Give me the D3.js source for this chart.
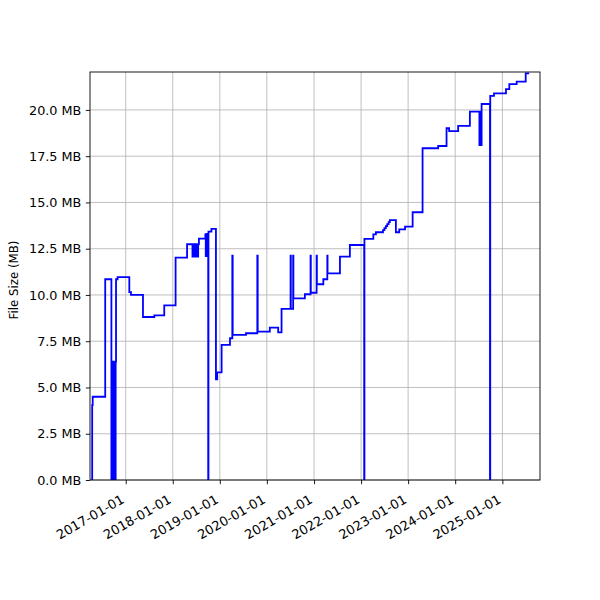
<!DOCTYPE html>
<html>
<head>
<meta charset="utf-8">
<script src="https://cdn.jsdelivr.net/npm/d3@7"></script>
<style>
  html, body { margin: 0; padding: 0; background: #fff; }
  svg { display: block; }
  text { font-family: "DejaVu Sans", sans-serif; }
</style>
</head>
<body>
<svg id="chart" width="600" height="600"></svg>
<script>
// ---- data ----
const commitDates = [
  "2016-04-12","2016-04-16","2016-04-20","2016-07-26",
  "2016-09-12","2016-09-15","2016-09-18","2016-09-21","2016-09-24","2016-09-27",
  "2016-09-30","2016-10-03","2016-10-06","2016-10-09","2016-10-12","2016-10-15",
  "2016-10-18","2016-10-30",
  "2017-01-29","2017-02-11","2017-05-15","2017-08-11","2017-10-27",
  "2018-01-23","2018-04-22",
  "2018-06-03","2018-06-07","2018-06-11","2018-06-15","2018-06-19","2018-06-23",
  "2018-06-27","2018-07-01","2018-07-05","2018-07-09","2018-07-13","2018-07-17",
  "2018-07-23","2018-09-11","2018-09-14","2018-09-16","2018-09-18","2018-09-20",
  "2018-10-03","2018-10-05","2018-10-28","2018-12-02","2018-12-12",
  "2019-01-15","2019-03-21","2019-04-08","2019-04-11","2019-07-23","2019-10-19","2019-10-22",
  "2020-01-24","2020-03-29","2020-04-24","2020-07-03","2020-07-05","2020-07-23","2020-07-25",
  "2020-10-22","2020-12-05","2020-12-07",
  "2021-01-21","2021-01-23","2021-03-14","2021-04-14","2021-04-16","2021-07-21","2021-10-06",
  "2022-01-25","2022-01-27","2022-04-06","2022-04-26",
  "2022-06-20","2022-07-01","2022-07-12","2022-07-23","2022-08-03","2022-08-12",
  "2022-09-28","2022-10-24","2022-12-08",
  "2023-02-05","2023-04-23","2023-08-22","2023-10-26","2023-11-15",
  "2024-01-24","2024-04-24","2024-07-07","2024-07-10","2024-07-13","2024-07-16","2024-07-19",
  "2024-07-24","2024-09-27","2024-09-29","2024-10-28",
  "2025-01-29","2025-02-24","2025-04-22","2025-07-01","2025-07-28"
];
const fileSizesMB = [
  0.0, 4.05, 4.5, 10.85,
  0.0, 4.5, 0.0, 6.4, 0.0, 6.4,
  0.0, 6.4, 0.0, 6.4, 0.0, 6.4,
  10.85, 10.96,
  10.15, 10.0, 8.81, 8.9, 9.44,
  12.02, 12.74,
  12.07, 12.74, 12.07, 12.74, 12.07, 12.74,
  12.07, 12.74, 12.07, 12.74, 12.07, 12.74,
  13.05, 13.28, 12.1, 13.28, 12.1, 13.3,
  0.0, 13.42, 13.57, 5.44, 5.82,
  7.3, 7.66, 12.12, 7.84, 7.93, 12.12, 8.02,
  8.23, 7.98, 9.25, 12.12, 9.25, 12.12, 9.82,
  10.04, 12.12, 10.12,
  12.12, 10.58, 10.85, 12.12, 11.17, 12.07, 12.7,
  0.0, 13.03, 13.28, 13.39,
  13.5, 13.61, 13.72, 13.83, 13.94, 14.05,
  13.39, 13.55, 13.69,
  14.47, 17.93, 18.05, 19.01, 18.86,
  19.14, 19.91, 18.1, 19.91, 18.1, 19.91, 18.1,
  20.32, 0.0, 20.76, 20.9,
  21.12, 21.4, 21.53, 21.98, 21.98
];
const xTickLabels = ["2017-01-01","2018-01-01","2019-01-01","2020-01-01","2021-01-01",
                     "2022-01-01","2023-01-01","2024-01-01","2025-01-01"];
const yTickValues = [0, 2.5, 5, 7.5, 10, 12.5, 15, 17.5, 20];
const xDomain = ["2016-03-30", "2025-10-20"];
const yDomain = [0, 22.05];
const yAxisLabel = "File Size (MB)";

// ---- layout ----
const svg = d3.select("#chart");
const L = 90, R = 540, T = 72, B = 480;
const parse = d3.utcParse("%Y-%m-%d");
const data = commitDates.map((d, i) => ({ date: parse(d), size: fileSizesMB[i] }));

const x = d3.scaleUtc().domain(xDomain.map(parse)).range([L, R]);
const y = d3.scaleLinear().domain(yDomain).range([B, T]);
const xTicks = xTickLabels.map(parse);

// grid
const grid = svg.append("g");
grid.selectAll("line.gx").data(xTicks).join("line")
  .attr("x1", d => x(d)).attr("x2", d => x(d)).attr("y1", T).attr("y2", B)
  .attr("stroke", "#b0b0b0").attr("stroke-width", 0.8);
grid.selectAll("line.gy").data(yTickValues).join("line")
  .attr("x1", L).attr("x2", R).attr("y1", d => y(d)).attr("y2", d => y(d))
  .attr("stroke", "#b0b0b0").attr("stroke-width", 0.8);

// clip
svg.append("clipPath").attr("id", "clip").append("rect")
  .attr("x", L).attr("y", T).attr("width", R - L).attr("height", B - T);

// line
const line = d3.line().x(d => x(d.date)).y(d => y(d.size)).curve(d3.curveStepAfter);
svg.append("path").datum(data)
  .attr("clip-path", "url(#clip)")
  .attr("fill", "none").attr("stroke", "#0000ff").attr("stroke-width", 1.8)
  .attr("stroke-linejoin", "miter")
  .attr("d", line);

// axes
const xAxis = d3.axisBottom(x).tickValues(xTicks).tickSize(4.2).tickPadding(4)
  .tickFormat(d3.utcFormat("%Y-%m-%d"));
const gx = svg.append("g").attr("transform", `translate(0,${B})`).call(xAxis);
gx.select(".domain").remove();
gx.selectAll(".tick line").attr("stroke", "#000").attr("stroke-width", 0.9);
gx.selectAll(".tick text")
  .attr("font-size", 13).attr("fill", "#000")
  .attr("text-anchor", "end")
  .attr("y", 0).attr("dy", 0)
  .attr("transform", "translate(-1,22) rotate(-30)");

const yAxis = d3.axisLeft(y).tickValues(yTickValues).tickSize(4.2).tickPadding(4.4)
  .tickFormat(d => d3.format(".1f")(d) + " MB");
const gy = svg.append("g").attr("transform", `translate(${L},0)`).call(yAxis);
gy.select(".domain").remove();
gy.selectAll(".tick line").attr("stroke", "#000").attr("stroke-width", 0.9);
gy.selectAll(".tick text").attr("font-size", 12.8).attr("fill", "#000");

// frame
svg.append("rect").attr("x", L).attr("y", T).attr("width", R - L).attr("height", B - T)
  .attr("fill", "none").attr("stroke", "#000").attr("stroke-width", 0.9);

// y label
svg.append("text")
  .attr("transform", `translate(18,${(T + B) / 2 + 4}) rotate(-90)`)
  .attr("text-anchor", "middle").attr("font-size", 11.8).attr("fill", "#000")
  .text(yAxisLabel);
</script>
</body>
</html>
